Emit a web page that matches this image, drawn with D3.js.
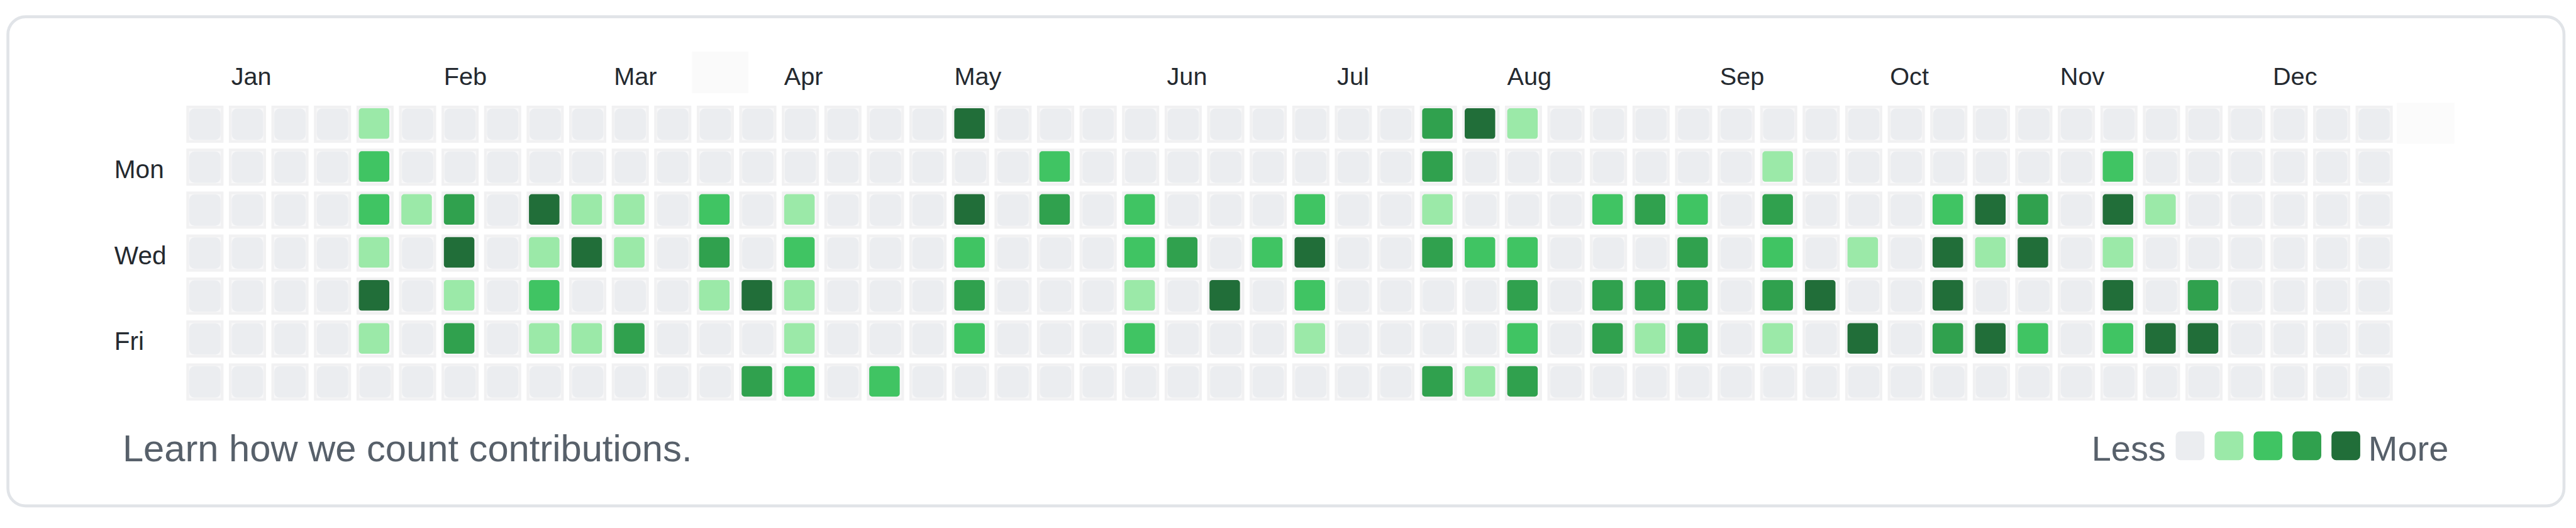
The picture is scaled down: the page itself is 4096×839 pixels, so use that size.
<!DOCTYPE html>
<html>
<head>
<meta charset="utf-8">
<script src="https://cdn.jsdelivr.net/npm/d3@7"></script>
<style>
html,body{margin:0;padding:0;background:#ffffff;overflow:hidden}
</style>
</head>
<body>
<svg id="chart" width="4096" height="839"></svg>
<script>
// ---------- data ----------
const months = ["Jan","Feb","Mar","Apr","May","Jun","Jul","Aug","Sep","Oct","Nov","Dec"];
const monthWeeks = [1, 6, 10, 14, 18, 23, 27, 31, 36, 40, 44, 49];
const dayLabels = ["Mon", "Wed", "Fri"];
const dayLabelRows = [1, 3, 5];
const levelColors = ["#ebedf0", "#9be9a8", "#40c463", "#30a14e", "#216e39"];
const legendLevels = [0, 1, 2, 3, 4];
const footerText = "Learn how we count contributions.";

// contribution level per week (52 weeks), one array per weekday row
const sun = [0,0,0,0,1,0,0,0,0,0,0,0,0,  0,0,0,0,0,4,0,0,0,0,0,0,0,  0,0,0,3,4,1,0,0,0,0,0,0,0,  0,0,0,0,0,0,0,0,0,0,0,0,0];
const mon = [0,0,0,0,2,0,0,0,0,0,0,0,0,  0,0,0,0,0,0,0,2,0,0,0,0,0,  0,0,0,3,0,0,0,0,0,0,0,1,0,  0,0,0,0,0,0,2,0,0,0,0,0,0];
const tue = [0,0,0,0,2,1,3,0,4,1,1,0,2,  0,1,0,0,0,4,0,3,0,2,0,0,0,  2,0,0,1,0,0,0,2,3,2,0,3,0,  0,0,2,4,3,0,4,1,0,0,0,0,0];
const wed = [0,0,0,0,1,0,4,0,1,4,1,0,3,  0,2,0,0,0,2,0,0,0,2,3,0,2,  4,0,0,3,2,2,0,0,0,3,0,2,0,  1,0,4,1,4,0,1,0,0,0,0,0,0];
const thu = [0,0,0,0,4,0,1,0,2,0,0,0,1,  4,1,0,0,0,3,0,0,0,1,0,4,0,  2,0,0,0,0,3,0,3,3,3,0,3,4,  0,0,4,0,0,0,4,0,3,0,0,0,0];
const fri = [0,0,0,0,1,0,3,0,1,1,3,0,0,  0,1,0,0,0,2,0,0,0,2,0,0,0,  1,0,0,0,0,2,0,3,1,3,0,1,0,  4,0,3,4,2,0,2,4,4,0,0,0,0];
const sat = [0,0,0,0,0,0,0,0,0,0,0,0,0,  3,2,0,2,0,0,0,0,0,0,0,0,0,  0,0,0,3,1,3,0,0,0,0,0,0,0,  0,0,0,0,0,0,0,0,0,0,0,0,0];
const weekdayRows = [sun, mon, tue, wed, thu, fri, sat];

// ---------- drawing ----------
const REF_W = 4392, REF_H = 900;
const k = 4096 / REF_W;
const FONT = "'Liberation Sans', Arial, Helvetica, sans-serif";

const svg = d3.select("#chart");
svg.append("rect").attr("width", 4096).attr("height", 839).attr("fill", "#ffffff");
const root = svg.append("g").attr("transform", `scale(${k})`);

// outer card border
root.append("rect")
  .attr("x", 13.5).attr("y", 28.5)
  .attr("width", 4358).attr("height", 833.5)
  .attr("rx", 30).attr("ry", 30)
  .attr("fill", "#ffffff")
  .attr("stroke", "#e1e4e8")
  .attr("stroke-width", 5);

const nWeeks = sun.length;
const x = d3.scaleBand().domain(d3.range(nWeeks)).range([317.7, 4079.5]).paddingInner(0.127).paddingOuter(0);
const y = d3.scaleBand().domain(d3.range(7)).range([180, 682.5]).paddingInner(0.135).paddingOuter(0);
const bw = x.bandwidth(), bh = y.bandwidth();

// faint ghost boxes seen in the reference
root.append("rect")
  .attr("x", x(12) - 8).attr("y", 88)
  .attr("width", 96).attr("height", 71)
  .attr("fill", "#fafafa");
root.append("rect")
  .attr("x", x(nWeeks - 1) + x.step() - 2).attr("y", y(0) - 5)
  .attr("width", 98).attr("height", 70)
  .attr("fill", "#fbfbfb");

// cells
const cells = [];
weekdayRows.forEach((row, r) => row.forEach((lv, c) => cells.push({r, c, lv})));

const cg = root.append("g").selectAll("g.cell").data(cells).join("g")
  .attr("class", "cell")
  .attr("transform", d => `translate(${x(d.c)},${y(d.r)})`);

cg.append("rect").attr("width", bw).attr("height", bh).attr("fill", "#f1f1f2");
cg.append("rect").attr("x", 4.5).attr("y", 4.5).attr("width", bw - 9).attr("height", bh - 9).attr("fill", "#f8f8f9");
cg.append("rect")
  .attr("x", d => d.lv ? 4 : 5)
  .attr("y", d => d.lv ? 4.5 : 5)
  .attr("width", d => d.lv ? 52 : bw - 10)
  .attr("height", d => d.lv ? 52 : bh - 10)
  .attr("rx", d => d.lv ? 5 : 9)
  .attr("fill", d => levelColors[d.lv]);

// month labels
root.append("g").selectAll("text").data(months).join("text")
  .attr("x", (m, i) => x(monthWeeks[i]) + 4)
  .attr("y", 145)
  .attr("font-family", FONT)
  .attr("font-size", 42.5)
  .attr("fill", "#24292f")
  .text(m => m);

// weekday labels
root.append("g").selectAll("text").data(dayLabels).join("text")
  .attr("x", 195)
  .attr("y", (d, i) => y(dayLabelRows[i]) + bh / 2 + 19)
  .attr("font-family", FONT)
  .attr("font-size", 43.5)
  .attr("fill", "#24292f")
  .text(d => d);

// footer
root.append("text")
  .attr("x", 209).attr("y", 786)
  .attr("font-family", FONT)
  .attr("font-size", 64)
  .attr("fill", "#57606a")
  .text(footerText);

// legend
const lx = d3.scaleBand().domain(legendLevels).range([3709.5, 4024.1]).paddingInner(0.262).paddingOuter(0);
root.append("g").selectAll("rect").data(legendLevels).join("rect")
  .attr("x", d => lx(d)).attr("y", 735)
  .attr("width", lx.bandwidth()).attr("height", 49)
  .attr("rx", 8)
  .attr("fill", d => levelColors[d]);
root.append("text")
  .attr("x", 3566).attr("y", 785)
  .attr("font-family", FONT).attr("font-size", 60)
  .attr("fill", "#57606a").text("Less");
root.append("text")
  .attr("x", 4038).attr("y", 785)
  .attr("font-family", FONT).attr("font-size", 60)
  .attr("fill", "#57606a").text("More");
</script>
</body>
</html>
